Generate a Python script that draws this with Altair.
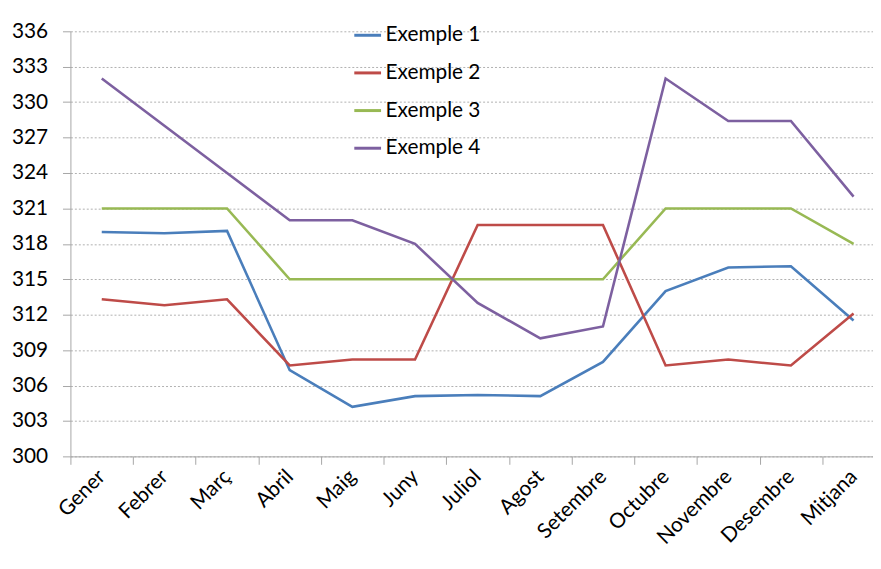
import altair as alt
import pandas as pd

months = ["Gener", "Febrer", "Març", "Abril", "Maig", "Juny", "Juliol",
          "Agost", "Setembre", "Octubre", "Novembre", "Desembre", "Mitjana"]
series = ["Exemple 1", "Exemple 2", "Exemple 3", "Exemple 4"]
ex1 = [319.0, 318.9, 319.1, 307.3, 304.2, 305.1, 305.2, 305.1, 308.0, 314.0, 316.0, 316.1, 311.5]
ex2 = [313.3, 312.8, 313.3, 307.7, 308.2, 308.2, 319.6, 319.6, 319.6, 307.7, 308.2, 307.7, 312.1]
ex3 = [321, 321, 321, 315, 315, 315, 315, 315, 315, 321, 321, 321, 318]
ex4 = [332, 328, 324, 320, 320, 318, 313, 310, 311, 332, 328.4, 328.4, 322]
colors = ["#4A7EBB", "#BE4B48", "#98B954", "#7D60A0"]
y_ticks = list(range(300, 337, 3))

rows = []
for name, vals in zip(series, [ex1, ex2, ex3, ex4]):
    for m, v in zip(months, vals):
        rows.append({"mes": m, "valor": v, "serie": name})
df = pd.DataFrame(rows)

FONT = "Lato"

chart = alt.Chart(df).mark_line(strokeWidth=2.6).encode(
    x=alt.X("mes:N", sort=months,
            scale=alt.Scale(type="band", paddingInner=0, paddingOuter=0, range=[0, 822]),
            axis=alt.Axis(title=None, labelAngle=-45, labelAlign="right", labelBaseline="middle",
                          tickBand="extent", tickSize=8, labelPadding=9, labelFontSize=21,
                          labelFont=FONT, labelColor="black", domainColor="#a6a6a6",
                          tickColor="#a6a6a6", grid=False)),
    y=alt.Y("valor:Q",
            scale=alt.Scale(domain=[300, 336], nice=False, zero=False),
            axis=alt.Axis(values=y_ticks, title=None, tickSize=8, labelPadding=15,
                          labelFontSize=21, labelFont=FONT, labelColor="black",
                          domainColor="#a6a6a6", tickColor="#a6a6a6",
                          grid=True, gridColor="#b0b0b0", gridDash=[2, 2], gridWidth=1)),
    color=alt.Color("serie:N", scale=alt.Scale(domain=series, range=colors),
                    legend=alt.Legend(title=None, orient="none", legendX=285, legendY=-11,
                                      symbolType="stroke", symbolSize=729, symbolStrokeWidth=3,
                                      labelFontSize=21, labelFont=FONT, labelColor="black",
                                      rowPadding=13, labelOffset=3, padding=0)),
).properties(
    width=810, height=429,
    padding={"left": 63, "top": 21, "right": 0, "bottom": 95},
    autosize="none", background="white"
).configure_view(stroke=None)

chart.save("out.html", embed_options={"renderer": "svg", "actions": False})
